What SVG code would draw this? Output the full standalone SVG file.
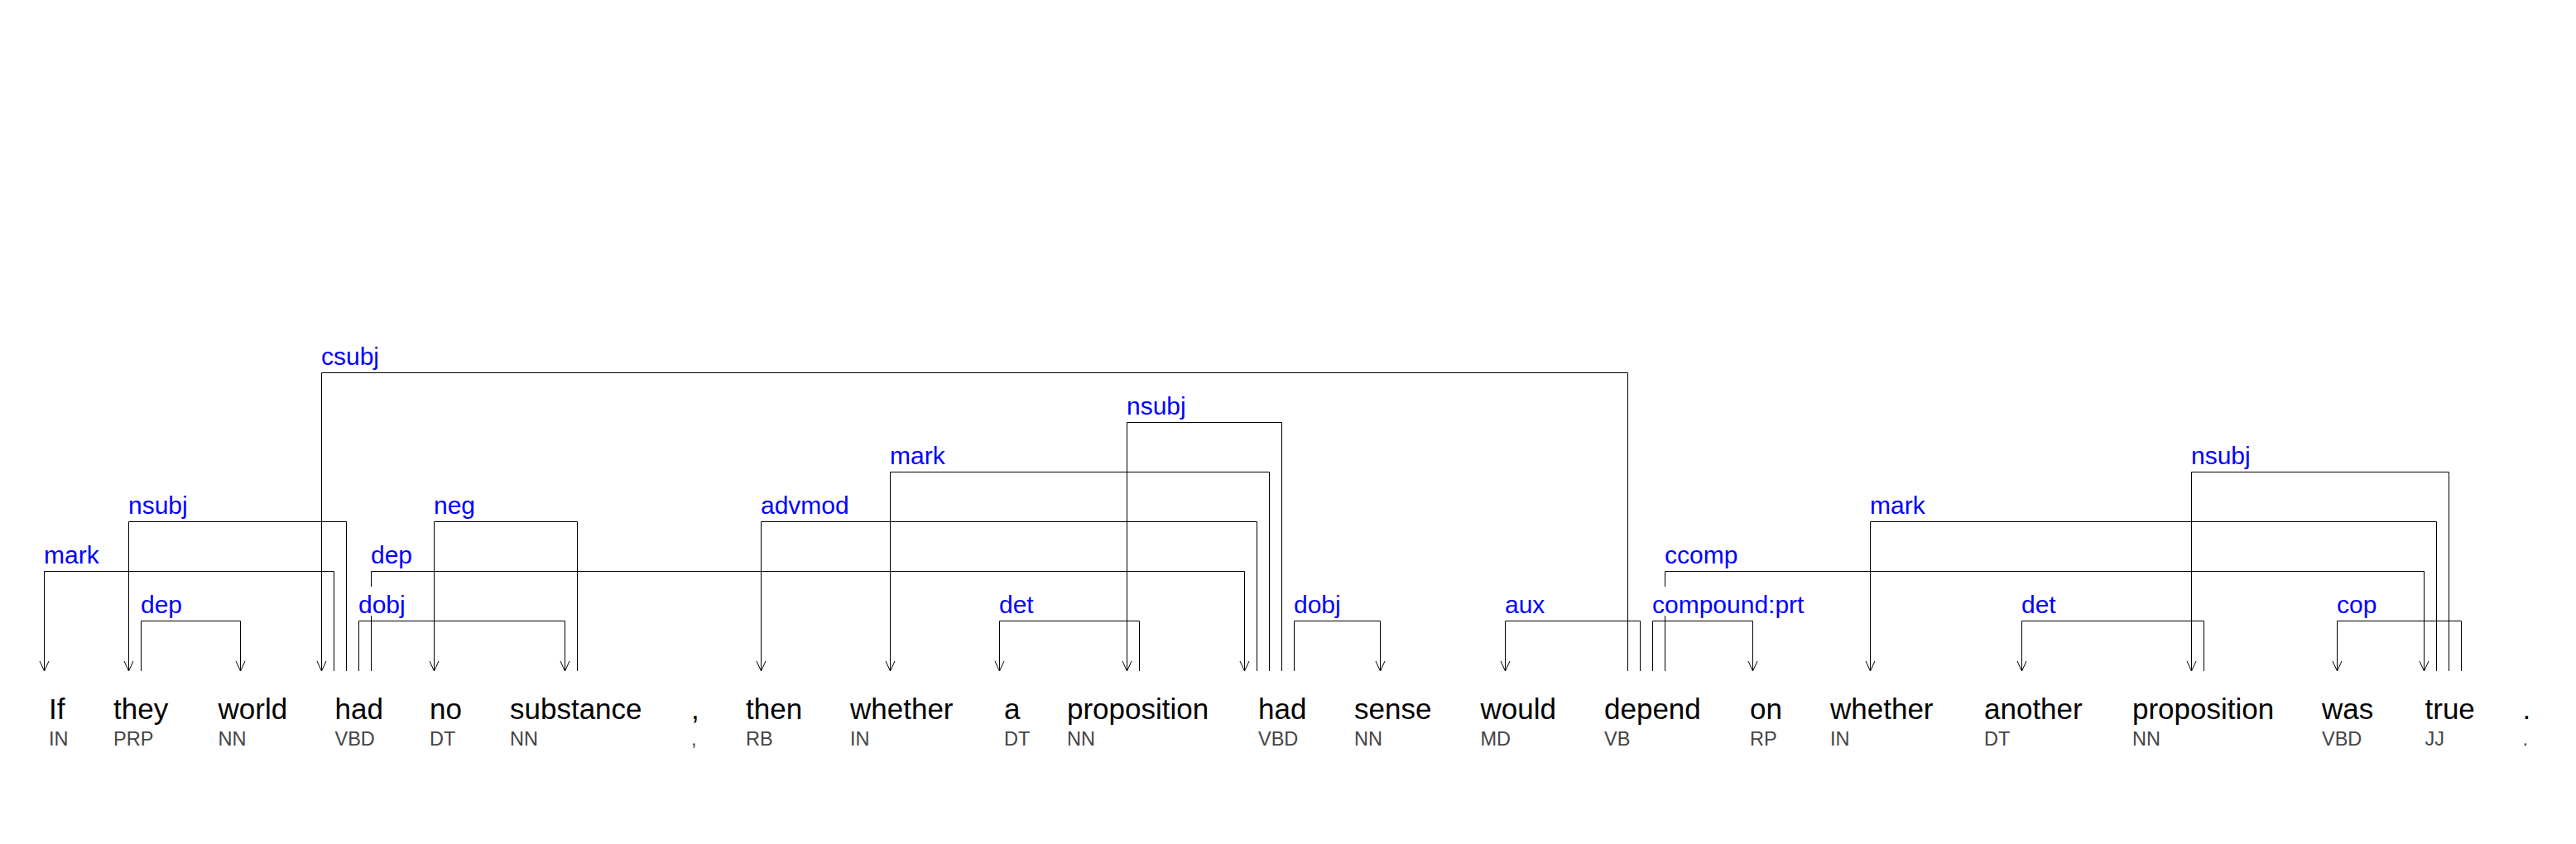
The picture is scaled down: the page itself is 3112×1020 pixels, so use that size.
<svg xmlns="http://www.w3.org/2000/svg" width="3112" height="1020" viewBox="0 0 3112 1020">
<style>
.w{font-family:"Liberation Sans",Arial,sans-serif;font-size:35px;fill:#000}
.p{font-family:"Liberation Sans",Arial,sans-serif;font-size:23.5px;fill:#444}
.e{fill:none;stroke:#000;stroke-width:1;marker-end:url(#arr)}
.l{font-family:"Liberation Sans",Arial,sans-serif;font-size:30px;fill:#0000ff}
.bg{fill:#fff}
</style>
<defs>
<marker id="arr" markerUnits="userSpaceOnUse" markerWidth="16" markerHeight="16" refX="0" refY="0" viewBox="-14 -8 16 16" orient="auto" overflow="visible">
<path d="M-12,-5.5 L0,0 L-12,5.5" fill="none" stroke="#000" stroke-width="1"/>
</marker>
</defs>
<rect width="3112" height="1020" fill="#fff"/>
<g id="connectors">
<path class="e" d="M1966.5,811 V450.5 H388.5 V811"/>
<path class="e" d="M1548.5,811 V510.5 H1361.5 V811"/>
<path class="e" d="M1533.5,811 V570.5 H1075.5 V811"/>
<path class="e" d="M2958.5,811 V570.5 H2647.5 V811"/>
<path class="e" d="M418.5,811 V630.5 H155.5 V811"/>
<path class="e" d="M697.5,811 V630.5 H524.5 V811"/>
<path class="e" d="M1518.5,811 V630.5 H919.5 V811"/>
<path class="e" d="M2943.5,811 V630.5 H2259.5 V811"/>
<path class="e" d="M403.5,811 V690.5 H53.5 V811"/>
<path class="e" d="M448.5,811 V690.5 H1503.5 V811"/>
<path class="e" d="M2011.5,811 V690.5 H2928.5 V811"/>
<path class="e" d="M170.5,811 V750.5 H290.5 V811"/>
<path class="e" d="M433.5,811 V750.5 H682.5 V811"/>
<path class="e" d="M1376.5,811 V750.5 H1207.5 V811"/>
<path class="e" d="M1563.5,811 V750.5 H1667.5 V811"/>
<path class="e" d="M1981.5,811 V750.5 H1818.5 V811"/>
<path class="e" d="M1996.5,811 V750.5 H2117.5 V811"/>
<path class="e" d="M2662.5,811 V750.5 H2442.5 V811"/>
<path class="e" d="M2973.5,811 V750.5 H2823.5 V811"/>
<g id="edge-labels">
<rect class="bg" x="387" y="409" width="73" height="35"/><text class="l" x="388" y="441">csubj</text>
<rect class="bg" x="1360" y="469" width="74" height="35"/><text class="l" x="1361" y="501">nsubj</text>
<rect class="bg" x="1074" y="529" width="69" height="35"/><text class="l" x="1075" y="561">mark</text>
<rect class="bg" x="2646" y="529" width="74" height="35"/><text class="l" x="2647" y="561">nsubj</text>
<rect class="bg" x="154" y="589" width="74" height="35"/><text class="l" x="155" y="621">nsubj</text>
<rect class="bg" x="523" y="589" width="52" height="35"/><text class="l" x="524" y="621">neg</text>
<rect class="bg" x="918" y="589" width="109" height="35"/><text class="l" x="919" y="621">advmod</text>
<rect class="bg" x="2258" y="589" width="69" height="35"/><text class="l" x="2259" y="621">mark</text>
<rect class="bg" x="52" y="649" width="69" height="35"/><text class="l" x="53" y="681">mark</text>
<rect class="bg" x="447" y="649" width="52" height="35"/><text class="l" x="448" y="681">dep</text>
<rect class="bg" x="2010" y="649" width="91" height="35"/><text class="l" x="2011" y="681">ccomp</text>
<rect class="bg" x="169" y="709" width="52" height="35"/><text class="l" x="170" y="741">dep</text>
<rect class="bg" x="432" y="709" width="59" height="35"/><text class="l" x="433" y="741">dobj</text>
<rect class="bg" x="1206" y="709" width="44" height="35"/><text class="l" x="1207" y="741">det</text>
<rect class="bg" x="1562" y="709" width="59" height="35"/><text class="l" x="1563" y="741">dobj</text>
<rect class="bg" x="1817" y="709" width="51" height="35"/><text class="l" x="1818" y="741">aux</text>
<rect class="bg" x="1995" y="709" width="186" height="35"/><text class="l" x="1996" y="741">compound:prt</text>
<rect class="bg" x="2441" y="709" width="44" height="35"/><text class="l" x="2442" y="741">det</text>
<rect class="bg" x="2822" y="709" width="51" height="35"/><text class="l" x="2823" y="741">cop</text>
</g>
</g>
<g id="w1"><text class="w" x="59" y="869">If</text><text class="p" x="59" y="901">IN</text></g>
<g id="w2"><text class="w" x="137" y="869">they</text><text class="p" x="137" y="901">PRP</text></g>
<g id="w3"><text class="w" x="263.5" y="869">world</text><text class="p" x="263.5" y="901">NN</text></g>
<g id="w4"><text class="w" x="404.5" y="869">had</text><text class="p" x="404.5" y="901">VBD</text></g>
<g id="w5"><text class="w" x="519" y="869">no</text><text class="p" x="519" y="901">DT</text></g>
<g id="w6"><text class="w" x="616" y="869">substance</text><text class="p" x="616" y="901">NN</text></g>
<g id="w7"><text class="w" x="835" y="869">,</text><text class="p" x="835" y="901">,</text></g>
<g id="w8"><text class="w" x="901" y="869">then</text><text class="p" x="901" y="901">RB</text></g>
<g id="w9"><text class="w" x="1027" y="869">whether</text><text class="p" x="1027" y="901">IN</text></g>
<g id="w10"><text class="w" x="1213" y="869">a</text><text class="p" x="1213" y="901">DT</text></g>
<g id="w11"><text class="w" x="1289" y="869">proposition</text><text class="p" x="1289" y="901">NN</text></g>
<g id="w12"><text class="w" x="1520" y="869">had</text><text class="p" x="1520" y="901">VBD</text></g>
<g id="w13"><text class="w" x="1636" y="869">sense</text><text class="p" x="1636" y="901">NN</text></g>
<g id="w14"><text class="w" x="1788.5" y="869">would</text><text class="p" x="1788.5" y="901">MD</text></g>
<g id="w15"><text class="w" x="1938" y="869">depend</text><text class="p" x="1938" y="901">VB</text></g>
<g id="w16"><text class="w" x="2114" y="869">on</text><text class="p" x="2114" y="901">RP</text></g>
<g id="w17"><text class="w" x="2211" y="869">whether</text><text class="p" x="2211" y="901">IN</text></g>
<g id="w18"><text class="w" x="2397" y="869">another</text><text class="p" x="2397" y="901">DT</text></g>
<g id="w19"><text class="w" x="2576" y="869">proposition</text><text class="p" x="2576" y="901">NN</text></g>
<g id="w20"><text class="w" x="2805" y="869">was</text><text class="p" x="2805" y="901">VBD</text></g>
<g id="w21"><text class="w" x="2929.5" y="869">true</text><text class="p" x="2929.5" y="901">JJ</text></g>
<g id="w22"><text class="w" x="3047.5" y="869">.</text><text class="p" x="3047.5" y="901">.</text></g>
</svg>
